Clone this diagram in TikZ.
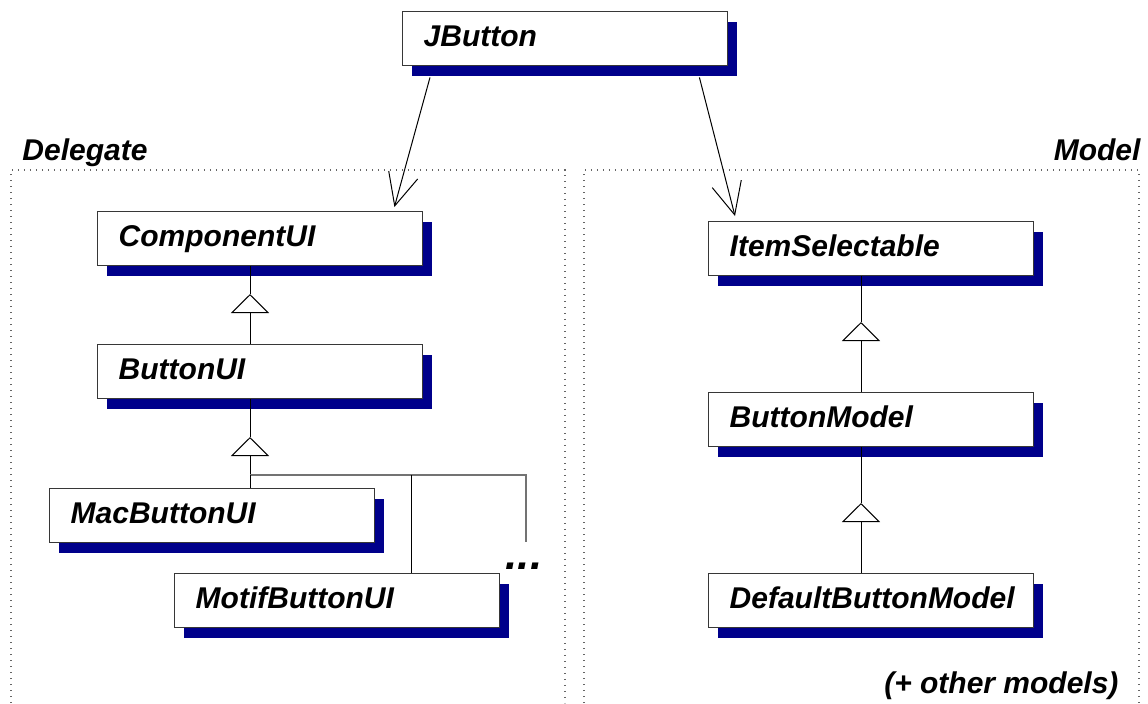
\documentclass[tikz,border=0pt]{standalone}
\usepackage{fontspec}
\setmainfont{Liberation Sans}
\usepackage{tikz}
\usetikzlibrary{arrows.meta,shadows}
\definecolor{shadowblue}{RGB}{0,0,139}
\definecolor{boxline}{RGB}{55,55,55}
\newcommand\umlfont{\fontsize{15pt}{18pt}\selectfont\bfseries\itshape}

\begin{document}
\begin{tikzpicture}[x=0.5pt,y=-0.5pt,line width=0.5pt,
	cls/.style={draw=boxline,line width=0.7pt,fill=white,anchor=north west,
		minimum height=27pt,text width=141.5pt,inner xsep=10.5pt,inner ysep=0pt,
		align=left,text height=11pt,text depth=3pt,font=\umlfont,
		drop shadow={shadow xshift=4.5pt,shadow yshift=-5.25pt,fill=shadowblue,opacity=1}},
	pkg/.style={inner sep=0pt,font=\umlfont},
	uses/.style={-{Straight Barb[length=16pt,width=15pt]}},
	isa/.style={-{Triangle[open,length=9.5pt,width=19pt]}},
	frame/.style={black!60,line width=0.6pt,dash pattern=on 0.6pt off 2.4pt}]

	\useasboundingbox (0,0) rectangle (1148,703);

	\draw[frame] (11,703) -- (11,170) -- (565,170) -- (565,703);
	\draw[frame] (584,703) -- (584,170) -- (1139,170) -- (1139,703);

	\node[pkg,anchor=base west] (delegate) at (22,160) {Delegate};
	\node[pkg,anchor=base east] (model) at (1141,160) {Model};

	\node[cls] (jbutton) at (402,11) {JButton};
	\node[cls] (componentui) at (97,211) {ComponentUI};
	\node[cls] (buttonui) at (97,344) {ButtonUI};
	\node[cls] (macbuttonui) at (49,488) {MacButtonUI};
	\node[cls] (motifbuttonui) at (174,573) {MotifButtonUI};
	\node[cls] (itemselectable) at (708,221) {ItemSelectable};
	\node[cls] (buttonmodel) at (708,392) {ButtonModel};
	\node[cls] (defaultbuttonmodel) at (708,573) {DefaultButtonModel};

	\node[pkg,font=\fontsize{22pt}{24pt}\selectfont\bfseries\itshape,anchor=base] (more) at (524,569) {...};
	\node[pkg,anchor=base east] (others) at (1119,693) {(+ other models)};

	\path[uses] ([xshift=14pt,yshift=-5.5pt]jbutton.south west) edge ([xshift=-14.5pt,yshift=2pt]componentui.north east);
	\path[uses] ([xshift=-14.5pt,yshift=-5.5pt]jbutton.south east) edge ([xshift=13.5pt,yshift=2.5pt]itemselectable.north west);

	\coordinate (compTip) at (250,294);
	\coordinate (uiTip) at (250,437);
	\coordinate (uiFork) at (250,475);
	\coordinate (motifFork) at (411,475);
	\coordinate (moreFork) at (526,475);
	\coordinate (moreEnd) at (526,542);
	\coordinate (itemTip) at (861,322);
	\coordinate (modelTip) at (861,503);

	\path[isa] (buttonui.north -| compTip) edge (compTip);
	\draw (compTip) -- (compTip |- componentui.south);
	\path[isa] (uiFork) edge (uiTip);
	\draw (uiTip) -- (uiTip |- buttonui.south);
	\draw[black!55,line width=0.65pt] (uiFork) -- (moreFork) -- (moreEnd);
	\draw (uiFork) -- (uiFork |- macbuttonui.north);
	\draw (motifFork) -- (motifFork |- motifbuttonui.north);
	\path[isa] (buttonmodel.north -| itemTip) edge (itemTip);
	\draw (itemTip) -- (itemTip |- itemselectable.south);
	\path[isa] (defaultbuttonmodel.north -| modelTip) edge (modelTip);
	\draw (modelTip) -- (modelTip |- buttonmodel.south);

\end{tikzpicture}
\end{document}
